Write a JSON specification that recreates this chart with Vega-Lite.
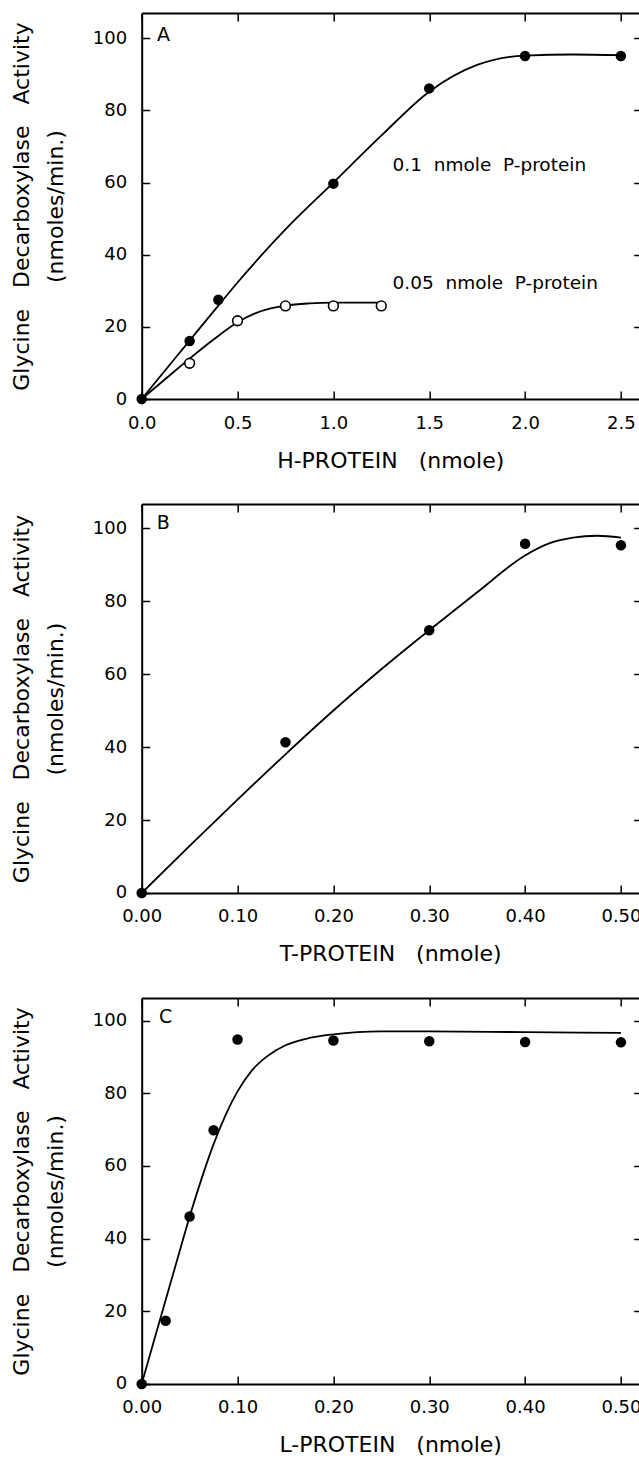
{
  "$schema": "https://vega.github.io/schema/vega-lite/v6.json",
  "autosize": {"type": "pad"},
  "padding": {"left": 9.7, "top": 12, "right": 0, "bottom": 5},
  "bounds": "flush",
  "spacing": 105,
  "background": "white",
  "config": {
    "view": {"stroke": null},
    "font": "DejaVu Sans",
    "axis": {
      "grid": false,
      "domainColor": "black",
      "domainWidth": 2,
      "tickColor": "black",
      "tickWidth": 1.5,
      "tickSize": -8,
      "labelPadding": 23,
      "labelFont": "DejaVu Sans",
      "labelFontSize": 18,
      "labelColor": "black",
      "labelFlush": false,
      "labelOverlap": false,
      "titleFont": "DejaVu Sans",
      "titleFontSize": 22,
      "titleFontWeight": "normal",
      "titleColor": "black"
    }
  },
  "datasets": {
    "aPoints": [
      {"hprotein": 0, "activity": 0, "pprotein": "0.1 nmole"},
      {"hprotein": 0.25, "activity": 16.1, "pprotein": "0.1 nmole"},
      {"hprotein": 0.4, "activity": 27.5, "pprotein": "0.1 nmole"},
      {"hprotein": 1.0, "activity": 59.7, "pprotein": "0.1 nmole"},
      {"hprotein": 1.5, "activity": 86.1, "pprotein": "0.1 nmole"},
      {"hprotein": 2.0, "activity": 95.1, "pprotein": "0.1 nmole"},
      {"hprotein": 2.5, "activity": 95.1, "pprotein": "0.1 nmole"}
    ],
    "aOpen": [
      {"hprotein": 0.25, "activity": 9.9, "pprotein": "0.05 nmole"},
      {"hprotein": 0.5, "activity": 21.7, "pprotein": "0.05 nmole"},
      {"hprotein": 0.75, "activity": 25.8, "pprotein": "0.05 nmole"},
      {"hprotein": 1.0, "activity": 25.8, "pprotein": "0.05 nmole"},
      {"hprotein": 1.25, "activity": 25.8, "pprotein": "0.05 nmole"}
    ],
    "aCurves": [
      {"hprotein": 0, "activity": 0, "pprotein": "0.1 nmole"},
      {"hprotein": 0.125, "activity": 8.1, "pprotein": "0.1 nmole"},
      {"hprotein": 0.25, "activity": 16.2, "pprotein": "0.1 nmole"},
      {"hprotein": 0.4, "activity": 25.9, "pprotein": "0.1 nmole"},
      {"hprotein": 0.5, "activity": 32.3, "pprotein": "0.1 nmole"},
      {"hprotein": 0.75, "activity": 47, "pprotein": "0.1 nmole"},
      {"hprotein": 1.0, "activity": 60, "pprotein": "0.1 nmole"},
      {"hprotein": 1.25, "activity": 73, "pprotein": "0.1 nmole"},
      {"hprotein": 1.5, "activity": 85.2, "pprotein": "0.1 nmole"},
      {"hprotein": 1.75, "activity": 92.6, "pprotein": "0.1 nmole"},
      {"hprotein": 2.0, "activity": 95.2, "pprotein": "0.1 nmole"},
      {"hprotein": 2.25, "activity": 95.5, "pprotein": "0.1 nmole"},
      {"hprotein": 2.5, "activity": 95.3, "pprotein": "0.1 nmole"},
      {"hprotein": 0, "activity": 0, "pprotein": "0.05 nmole"},
      {"hprotein": 0.125, "activity": 5.6, "pprotein": "0.05 nmole"},
      {"hprotein": 0.25, "activity": 11.2, "pprotein": "0.05 nmole"},
      {"hprotein": 0.375, "activity": 16.5, "pprotein": "0.05 nmole"},
      {"hprotein": 0.5, "activity": 21.3, "pprotein": "0.05 nmole"},
      {"hprotein": 0.625, "activity": 24.4, "pprotein": "0.05 nmole"},
      {"hprotein": 0.75, "activity": 25.9, "pprotein": "0.05 nmole"},
      {"hprotein": 0.875, "activity": 26.5, "pprotein": "0.05 nmole"},
      {"hprotein": 1.0, "activity": 26.7, "pprotein": "0.05 nmole"},
      {"hprotein": 1.125, "activity": 26.7, "pprotein": "0.05 nmole"},
      {"hprotein": 1.25, "activity": 26.7, "pprotein": "0.05 nmole"}
    ],
    "bPoints": [
      {"tprotein": 0, "activity": 0},
      {"tprotein": 0.15, "activity": 41.3},
      {"tprotein": 0.3, "activity": 72},
      {"tprotein": 0.4, "activity": 95.7},
      {"tprotein": 0.5, "activity": 95.3}
    ],
    "bCurve": [
      {"tprotein": 0, "activity": 0},
      {"tprotein": 0.05, "activity": 12.9},
      {"tprotein": 0.1, "activity": 25.6},
      {"tprotein": 0.15, "activity": 38},
      {"tprotein": 0.2, "activity": 50},
      {"tprotein": 0.25, "activity": 61.3},
      {"tprotein": 0.3, "activity": 72},
      {"tprotein": 0.35, "activity": 82.4},
      {"tprotein": 0.4, "activity": 92.5},
      {"tprotein": 0.425, "activity": 95.8},
      {"tprotein": 0.45, "activity": 97.4},
      {"tprotein": 0.475, "activity": 97.9},
      {"tprotein": 0.5, "activity": 97.4}
    ],
    "cPoints": [
      {"lprotein": 0, "activity": 0},
      {"lprotein": 0.025, "activity": 17.4},
      {"lprotein": 0.05, "activity": 46.1},
      {"lprotein": 0.075, "activity": 69.8},
      {"lprotein": 0.1, "activity": 94.8},
      {"lprotein": 0.2, "activity": 94.5},
      {"lprotein": 0.3, "activity": 94.3},
      {"lprotein": 0.4, "activity": 94.1},
      {"lprotein": 0.5, "activity": 94}
    ],
    "cCurve": [
      {"lprotein": 0, "activity": 0},
      {"lprotein": 0.0125, "activity": 11.6},
      {"lprotein": 0.025, "activity": 23.1},
      {"lprotein": 0.0375, "activity": 34.6},
      {"lprotein": 0.05, "activity": 46},
      {"lprotein": 0.0625, "activity": 56.5},
      {"lprotein": 0.075, "activity": 66},
      {"lprotein": 0.0875, "activity": 74},
      {"lprotein": 0.1, "activity": 80.5},
      {"lprotein": 0.115, "activity": 86.3},
      {"lprotein": 0.13, "activity": 90},
      {"lprotein": 0.15, "activity": 93.2},
      {"lprotein": 0.175, "activity": 95.2},
      {"lprotein": 0.2, "activity": 96.2},
      {"lprotein": 0.225, "activity": 96.8},
      {"lprotein": 0.25, "activity": 97},
      {"lprotein": 0.3, "activity": 97},
      {"lprotein": 0.4, "activity": 96.8},
      {"lprotein": 0.5, "activity": 96.6}
    ]
  },
  "vconcat": [
    {
      "width": 497,
      "height": 386,
      "layer": [
        {
          "data": {"name": "aCurves"},
          "mark": {"type": "line", "color": "black", "strokeWidth": 1.8, "interpolate": "monotone"},
          "encoding": {
            "x": {"field": "hprotein", "type": "quantitative", "scale": {"domain": [0, 2.593], "nice": false, "zero": false},
                  "axis": {"orient": "bottom", "values": [0, 0.5, 1, 1.5, 2, 2.5], "format": ".1f", "title": "H-PROTEIN\u00a0\u00a0\u00a0(nmole)", "titlePadding": 18}},
            "y": {"field": "activity", "type": "quantitative", "scale": {"domain": [0, 107], "nice": false, "zero": false},
                  "axis": {"orient": "left", "values": [0, 20, 40, 60, 80, 100], "title": ["Glycine\u00a0\u00a0\u00a0Decarboxylase\u00a0\u00a0\u00a0Activity", "(nmoles/min.)"], "titleLineHeight": 34, "titlePadding": 25}},
            "detail": {"field": "pprotein", "type": "nominal"}
          }
        },
        {
          "data": {"name": "aOpen"},
          "mark": {"type": "point", "shape": "circle", "filled": false, "fill": "white", "stroke": "black", "strokeWidth": 1.6, "size": 95, "opacity": 1},
          "encoding": {
            "x": {"field": "hprotein", "type": "quantitative", "axis": null},
            "y": {"field": "activity", "type": "quantitative", "axis": null}
          }
        },
        {
          "data": {"name": "aPoints"},
          "mark": {"type": "circle", "color": "black", "size": 110, "opacity": 1},
          "encoding": {
            "x": {"field": "hprotein", "type": "quantitative", "axis": {"orient": "top", "values": [0, 0.5, 1, 1.5, 2, 2.5], "labels": false, "title": null}},
            "y": {"field": "activity", "type": "quantitative", "axis": {"orient": "right", "values": [20, 40, 60, 80, 100], "labels": false, "domain": false, "tickSize": -5, "title": null}}
          }
        },
        {
          "data": {"values": [{}]},
          "mark": {"type": "text", "text": "A", "fontSize": 19, "align": "left", "baseline": "middle", "color": "black"},
          "encoding": {
            "x": {"datum": 0.08, "type": "quantitative", "axis": null},
            "y": {"datum": 100.8, "type": "quantitative", "axis": null}
          }
        },
        {
          "data": {"values": [{}]},
          "mark": {"type": "text", "text": "0.1\u00a0\u00a0nmole\u00a0\u00a0P-protein", "fontSize": 18.5, "align": "left", "baseline": "middle", "color": "black"},
          "encoding": {
            "x": {"datum": 1.309, "type": "quantitative", "axis": null},
            "y": {"datum": 64.8, "type": "quantitative", "axis": null}
          }
        },
        {
          "data": {"values": [{}]},
          "mark": {"type": "text", "text": "0.05\u00a0\u00a0nmole\u00a0\u00a0P-protein", "fontSize": 18.5, "align": "left", "baseline": "middle", "color": "black"},
          "encoding": {
            "x": {"datum": 1.309, "type": "quantitative", "axis": null},
            "y": {"datum": 32.1, "type": "quantitative", "axis": null}
          }
        }
      ],
      "resolve": {"axis": {"x": "independent", "y": "independent"}}
    },
    {
      "width": 497,
      "height": 389,
      "layer": [
        {
          "data": {"name": "bCurve"},
          "mark": {"type": "line", "color": "black", "strokeWidth": 1.8, "interpolate": "monotone"},
          "encoding": {
            "x": {"field": "tprotein", "type": "quantitative", "scale": {"domain": [0, 0.5185], "nice": false, "zero": false},
                  "axis": {"orient": "bottom", "values": [0, 0.1, 0.2, 0.3, 0.4, 0.5], "format": ".2f", "title": "T-PROTEIN\u00a0\u00a0\u00a0(nmole)", "titlePadding": 18}},
            "y": {"field": "activity", "type": "quantitative", "scale": {"domain": [0, 106.6], "nice": false, "zero": false},
                  "axis": {"orient": "left", "values": [0, 20, 40, 60, 80, 100], "title": ["Glycine\u00a0\u00a0\u00a0Decarboxylase\u00a0\u00a0\u00a0Activity", "(nmoles/min.)"], "titleLineHeight": 34, "titlePadding": 25}}
          }
        },
        {
          "data": {"name": "bPoints"},
          "mark": {"type": "circle", "color": "black", "size": 110, "opacity": 1},
          "encoding": {
            "x": {"field": "tprotein", "type": "quantitative", "axis": {"orient": "top", "values": [0, 0.1, 0.2, 0.3, 0.4, 0.5], "labels": false, "title": null}},
            "y": {"field": "activity", "type": "quantitative", "axis": {"orient": "right", "values": [20, 40, 60, 80, 100], "labels": false, "domain": false, "tickSize": -5, "title": null}}
          }
        },
        {
          "data": {"values": [{}]},
          "mark": {"type": "text", "text": "B", "fontSize": 19, "align": "left", "baseline": "middle", "color": "black"},
          "encoding": {
            "x": {"datum": 0.0156, "type": "quantitative", "axis": null},
            "y": {"datum": 101.3, "type": "quantitative", "axis": null}
          }
        }
      ],
      "resolve": {"axis": {"x": "independent", "y": "independent"}}
    },
    {
      "width": 497,
      "height": 386,
      "layer": [
        {
          "data": {"name": "cCurve"},
          "mark": {"type": "line", "color": "black", "strokeWidth": 1.8, "interpolate": "monotone"},
          "encoding": {
            "x": {"field": "lprotein", "type": "quantitative", "scale": {"domain": [0, 0.5185], "nice": false, "zero": false},
                  "axis": {"orient": "bottom", "values": [0, 0.1, 0.2, 0.3, 0.4, 0.5], "format": ".2f", "title": "L-PROTEIN\u00a0\u00a0\u00a0(nmole)", "titlePadding": 18}},
            "y": {"field": "activity", "type": "quantitative", "scale": {"domain": [0, 106.2], "nice": false, "zero": false},
                  "axis": {"orient": "left", "values": [0, 20, 40, 60, 80, 100], "title": ["Glycine\u00a0\u00a0\u00a0Decarboxylase\u00a0\u00a0\u00a0Activity", "(nmoles/min.)"], "titleLineHeight": 34, "titlePadding": 25}}
          }
        },
        {
          "data": {"name": "cPoints"},
          "mark": {"type": "circle", "color": "black", "size": 110, "opacity": 1},
          "encoding": {
            "x": {"field": "lprotein", "type": "quantitative", "axis": {"orient": "top", "values": [0, 0.1, 0.2, 0.3, 0.4, 0.5], "labels": false, "title": null}},
            "y": {"field": "activity", "type": "quantitative", "axis": {"orient": "right", "values": [20, 40, 60, 80, 100], "labels": false, "domain": false, "tickSize": -5, "title": null}}
          }
        },
        {
          "data": {"values": [{}]},
          "mark": {"type": "text", "text": "C", "fontSize": 19, "align": "left", "baseline": "middle", "color": "black"},
          "encoding": {
            "x": {"datum": 0.018, "type": "quantitative", "axis": null},
            "y": {"datum": 101, "type": "quantitative", "axis": null}
          }
        }
      ],
      "resolve": {"axis": {"x": "independent", "y": "independent"}}
    }
  ]
}
